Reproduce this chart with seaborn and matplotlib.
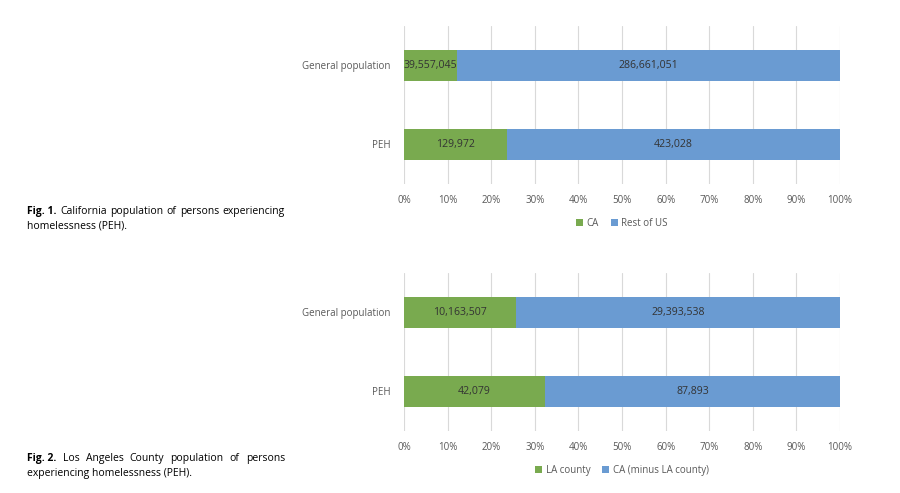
import pandas as pd
import numpy as np
import matplotlib.pyplot as plt
import seaborn as sns

# data
categories = ['General population', 'PEH']

ca_counts = [39557045, 129972]
rest_us_counts = [286661051, 423028]

la_counts = [10163507, 42079]
ca_minus_la_counts = [29393538, 87893]

legend_top = ['CA', 'Rest of US']
legend_bottom = ['LA county', 'CA (minus LA county)']

captions = [
    ('Fig. 1.', 'California population of persons experiencing', 'homelessness (PEH).'),
    ('Fig. 2.', 'Los Angeles County population of persons', 'experiencing homelessness (PEH).'),
]

green = '#79aa4f'
blue = '#6a9bd2'
grey_text = '#595959'


def stacked_panel(ax, first, second, labels):
    df = pd.DataFrame({'category': categories, 'first': first, 'second': second})
    df['total'] = df['first'] + df['second']
    df['first_pct'] = df['first'] / df['total'] * 100
    df['all_pct'] = 100.0

    sns.barplot(data=df, y='category', x='all_pct', color=blue, width=0.4, saturation=1,
                orient='h', ax=ax, label=labels[1], zorder=3, linewidth=0)
    sns.barplot(data=df, y='category', x='first_pct', color=green, width=0.4, saturation=1,
                orient='h', ax=ax, label=labels[0], zorder=4, linewidth=0)

    for i, row in df.iterrows():
        ax.text(row['first_pct'] / 2, i, f"{row['first']:,}", ha='center', va='center',
                fontsize=7.6, color='#333333', zorder=5)
        ax.text(row['first_pct'] + (100 - row['first_pct']) / 2, i, f"{row['second']:,}",
                ha='center', va='center', fontsize=7.6, color='#333333', zorder=5)

    ax.set_xlim(0, 100)
    ax.set_ylim(1.5, -0.5)
    ax.set_xticks(np.arange(0, 101, 10))
    ax.set_xticklabels([f'{v}%' for v in range(0, 101, 10)])
    ax.grid(axis='x', color='#d9d9d9', linewidth=0.8, zorder=0)
    ax.grid(axis='y', visible=False)
    for s in ax.spines.values():
        s.set_visible(False)
    ax.tick_params(length=0, labelsize=7, colors=grey_text, pad=8)
    ax.tick_params(axis='y', pad=10)
    ax.set_xlabel('')
    ax.set_ylabel('')

    handles, lbls = ax.get_legend_handles_labels()
    order = [lbls.index(labels[0]), lbls.index(labels[1])]
    ax.legend([handles[k] for k in order], [lbls[k] for k in order],
              loc='upper center', bbox_to_anchor=(0.5, -0.16), ncol=2,
              frameon=False, fontsize=7, handlelength=0.7, handleheight=0.7,
              handletextpad=0.4, columnspacing=1.2, labelcolor=grey_text)


def justified_caption(fig, bold, line1, line2, y, x0=27, x1=285, fs=7.5):
    # first line spread over the column width, second line left aligned
    renderer = fig.canvas.get_renderer()
    W = fig.bbox.width
    words = [(bold, 'bold')] + [(w, 'normal') for w in line1.split()]
    arts = [fig.text(0, y, w, fontsize=fs, fontweight=wt, color='black') for w, wt in words]
    widths = [a.get_window_extent(renderer).width for a in arts]
    gap = (x1 - x0 - sum(widths)) / (len(arts) - 1)
    x = x0
    for a, w in zip(arts, widths):
        a.set_x(x / W)
        x += w + gap
    fig.text(x0 / W, y - 0.029, line2, fontsize=fs, color='black')


if __name__ == '__main__':
    sns.set_style('white')
    plt.rcParams['font.family'] = ['Open Sans', 'DejaVu Sans']

    fig = plt.figure(figsize=(9, 4.93), dpi=100)
    ax1 = fig.add_axes([0.449, 0.627, 0.4844, 0.3205])
    ax2 = fig.add_axes([0.449, 0.1258, 0.4844, 0.3205])

    stacked_panel(ax1, ca_counts, rest_us_counts, legend_top)
    stacked_panel(ax2, la_counts, ca_minus_la_counts, legend_bottom)

    fig.canvas.draw()
    for (bold, l1, l2), y in zip(captions, [0.566, 0.064]):
        justified_caption(fig, bold, l1, l2, y)

    fig.savefig('out.png', dpi=100)
